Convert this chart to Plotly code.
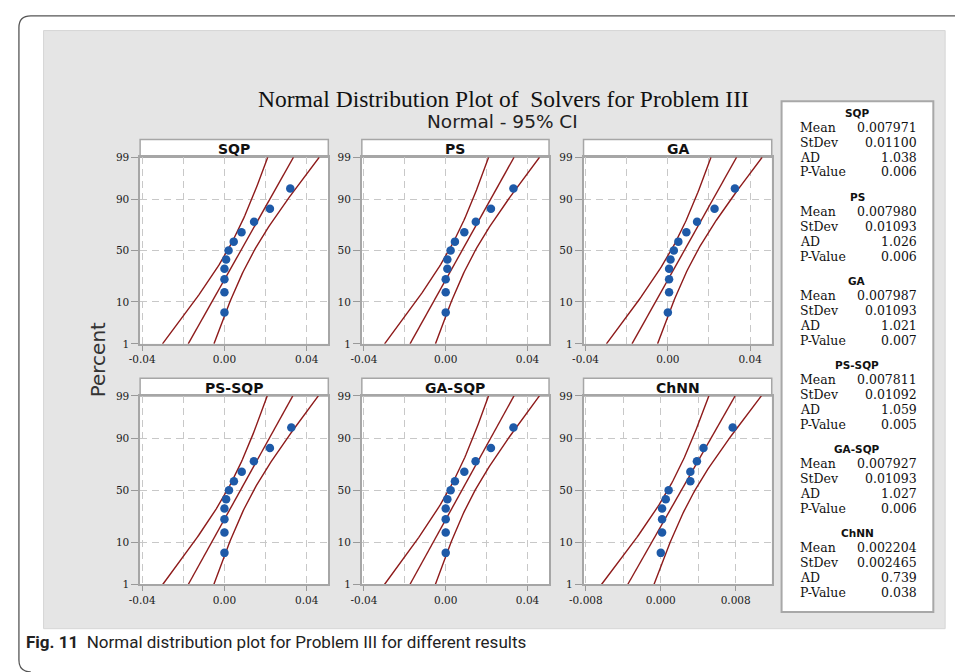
import plotly.graph_objects as go
from statistics import NormalDist
import math

W, H = 955, 672
nd = NormalDist()

# ---------------- data ----------------
panel_names = ["SQP", "PS", "GA", "PS-SQP", "GA-SQP", "ChNN"]
# plotting positions (percent) of the 11 ordered observations
plot_pct = [6.1, 14.9, 23.7, 32.5, 41.2, 50.0, 58.8, 67.5, 76.3, 85.1, 93.9]

sqp_vals = [0.0, 0.0, 0.0, 0.0, 0.0008, 0.0020, 0.0045, 0.0083, 0.0144, 0.0221, 0.0320]
ps_vals = [0.0, 0.0, 0.0, 0.0008, 0.0008, 0.0024, 0.0045, 0.0091, 0.0147, 0.0221, 0.0331]
ga_vals = [0.0, 0.0006, 0.0006, 0.0006, 0.0013, 0.0029, 0.0051, 0.0090, 0.0142, 0.0227, 0.0326]
ps_sqp_vals = [0.0, 0.0, 0.0, 0.0, 0.0008, 0.0022, 0.0046, 0.0084, 0.0143, 0.0221, 0.0325]
ga_sqp_vals = [0.0, 0.0, 0.0, 0.0, 0.0008, 0.0024, 0.0045, 0.0091, 0.0146, 0.0221, 0.0331]
chnn_vals = [0.0, 0.00014, 0.00014, 0.00014, 0.00053, 0.00084, 0.00316, 0.00316, 0.00386, 0.00456, 0.00768]
series_vals = [sqp_vals, ps_vals, ga_vals, ps_sqp_vals, ga_sqp_vals, chnn_vals]

means = [0.007971, 0.007980, 0.007987, 0.007811, 0.007927, 0.002204]
stdevs = [0.01100, 0.01093, 0.01093, 0.01092, 0.01093, 0.002465]
ad_vals = [1.038, 1.026, 1.021, 1.059, 1.027, 0.739]
p_vals = [0.006, 0.006, 0.007, 0.005, 0.006, 0.038]

y_tick_pct = [1, 10, 50, 90, 99]
y_tick_text = ["1", "10", "50", "90", "99"]
x_tick_vals = [[-0.04, 0.0, 0.04]] * 5 + [[-0.008, 0.0, 0.008]]
x_tick_text = [["-0.04", "0.00", "0.04"]] * 5 + [["-0.008", "0.000", "0.008"]]
x_minor_vals = [[-0.02, 0.02]] * 5 + [[-0.004, 0.004]]
x_ranges = [[-0.041, 0.0505]] * 5 + [[-0.00825, 0.01185]]

title_text = "Normal Distribution Plot of  Solvers for Problem III"
subtitle_text = "Normal - 95% CI"
caption_bold = "Fig. 11"
caption_text = "Normal distribution plot for Problem III for different results"

# ---------------- styling / layout ----------------
RED = "#8e1b1b"
BLUE = "#1e5aa8"
GRID = "#c8c8c8"
BORDER = "#a6a6a6"
SERIF = "Liberation Serif"
WSERIF = "DejaVu Serif"
SANS = "DejaVu Sans"

col_px = [(128, 319), (353, 543), (578, 769)]
row_px = [(154, 344), (397, 589)]
hdr_px = [(136, 154), (379, 397)]


def fx(x):
    return x / W


def fy(y):
    return 1 - y / H


zlo = nd.inv_cdf(0.01)
zhi = nd.inv_cdf(0.99)

fig = go.Figure()
shapes = []
annotations = []

# outer rounded frame
r = 12
x0, y0, x1, y1 = 5, 10, 975, 678
path = (f"M {fx(x0)},{fy(y1 - r)} L {fx(x0)},{fy(y0 + r)} Q {fx(x0)},{fy(y0)} {fx(x0 + r)},{fy(y0)} "
        f"L {fx(x1)},{fy(y0)}")
shapes.append(dict(type="path", xref="paper", yref="paper", path=path,
                   line=dict(color="#555555", width=1.3), layer="below"))
path2 = (f"M {fx(x0)},{fy(y1 - r)} Q {fx(x0)},{fy(y1)} {fx(x0 + r)},{fy(y1)}")
shapes.append(dict(type="path", xref="paper", yref="paper", path=path2,
                   line=dict(color="#555555", width=1.3), layer="below"))

# gray panel
shapes.append(dict(type="rect", xref="paper", yref="paper", x0=fx(30), x1=fx(945), y0=fy(634), y1=fy(25),
                   fillcolor="#e5e5e5", line=dict(color="#d6d6d6", width=1), layer="below"))
# stats box
shapes.append(dict(type="rect", xref="paper", yref="paper", x0=fx(779), x1=fx(933), y0=fy(617), y1=fy(97),
                   fillcolor="white", line=dict(color="#a8a8a8", width=2), layer="below"))

for i, name in enumerate(panel_names):
    row, col = divmod(i, 3)
    c0, c1 = col_px[col]
    r0, r1 = row_px[row]
    h0, h1 = hdr_px[row]
    idx = "" if i == 0 else str(i + 1)
    # plot area white
    shapes.append(dict(type="rect", xref="paper", yref="paper", x0=fx(c0), x1=fx(c1), y0=fy(r1), y1=fy(r0),
                       fillcolor="white", line=dict(width=0), layer="below"))
    # header box
    shapes.append(dict(type="rect", xref="paper", yref="paper", x0=fx(c0), x1=fx(c1), y0=fy(h1), y1=fy(h0),
                       fillcolor="white", line=dict(color=BORDER, width=1.5), layer="below"))
    annotations.append(dict(xref="paper", yref="paper", x=fx((c0 + c1) / 2), y=fy((h0 + h1) / 2 + 0.5),
                            text=f"<b>{name}</b>", showarrow=False, xanchor="center", yanchor="middle",
                            font=dict(family=SANS, size=14, color="#111111")))

    fig.layout[f"xaxis{idx}"] = dict(
        domain=[fx(c0), fx(c1)], range=x_ranges[i], anchor=f"y{idx}",
        tickvals=x_tick_vals[i], ticktext=x_tick_text[i], ticks="outside", ticklen=5, tickcolor="#999999",
        showline=True, mirror=True, linecolor=BORDER, linewidth=1.5,
        showgrid=True, gridcolor=GRID, griddash="7px,5px", gridwidth=1.3, zeroline=False,
        minor=dict(tickvals=x_minor_vals[i], showgrid=True, gridcolor=GRID, griddash="7px,5px",
                   gridwidth=1.3, ticks=""),
        tickfont=dict(family=WSERIF, size=10.5, color="#1a1a1a"), fixedrange=True)
    fig.layout[f"yaxis{idx}"] = dict(
        domain=[fy(r1), fy(r0)], range=[zlo, zhi], anchor=f"x{idx}",
        tickvals=[nd.inv_cdf(p / 100) for p in y_tick_pct], ticktext=y_tick_text,
        ticks="outside", ticklen=7, tickcolor="#999999",
        showline=True, mirror=True, linecolor=BORDER, linewidth=1.5,
        showgrid=True, gridcolor=GRID, griddash="7px,5px", gridwidth=1.3, zeroline=False,
        tickfont=dict(family=WSERIF, size=10.5, color="#1a1a1a"), fixedrange=True)

    # fitted line and 95% CI
    n = len(series_vals[i])
    m, s = means[i], stdevs[i]
    zs = [zlo + (zhi - zlo) * k / 80 for k in range(81)]
    center = [m + z * s for z in zs]
    half = [1.96 * s * math.sqrt(1 / n + z * z / (2 * n)) for z in zs]
    lower = [c - h for c, h in zip(center, half)]
    upper = [c + h for c, h in zip(center, half)]
    for xs in (lower, center, upper):
        fig.add_trace(go.Scatter(x=xs, y=zs, mode="lines", line=dict(color=RED, width=1.4),
                                 xaxis=f"x{idx}", yaxis=f"y{idx}", hoverinfo="skip", showlegend=False))
    fig.add_trace(go.Scatter(x=series_vals[i], y=[nd.inv_cdf(p / 100) for p in plot_pct], mode="markers",
                             marker=dict(color=BLUE, size=8.5), xaxis=f"x{idx}", yaxis=f"y{idx}",
                             showlegend=False))

# stats box text
block0 = 109
step = 85.6
for i, name in enumerate(panel_names):
    top = block0 + i * step
    annotations.append(dict(xref="paper", yref="paper", x=fx(856), y=fy(top), text=f"<b>{name}</b>",
                            showarrow=False, xanchor="center", yanchor="middle",
                            font=dict(family=SANS, size=10.5, color="#111111")))
    rows = [("Mean", f"{means[i]:.6f}"), ("StDev", f"{stdevs[i]:#.4g}"),
            ("AD", f"{ad_vals[i]:.3f}"), ("P-Value", f"{p_vals[i]:.3f}")]
    offs = [14.5, 29.5, 45, 60]
    for (lab, val), o in zip(rows, offs):
        annotations.append(dict(xref="paper", yref="paper", x=fx(796), y=fy(top + o), text=lab,
                                showarrow=False, xanchor="left", yanchor="middle",
                                font=dict(family=WSERIF, size=12.5, color="#111111")))
        annotations.append(dict(xref="paper", yref="paper", x=fx(918), y=fy(top + o), text=val,
                                showarrow=False, xanchor="right", yanchor="middle",
                                font=dict(family=WSERIF, size=12.5, color="#111111")))

# titles
annotations.append(dict(xref="paper", yref="paper", x=fx(497), y=fy(95), text=title_text, showarrow=False,
                        xanchor="center", yanchor="middle", font=dict(family=SERIF, size=23.5, color="#111111")))
annotations.append(dict(xref="paper", yref="paper", x=fx(496), y=fy(118), text=subtitle_text, showarrow=False,
                        xanchor="center", yanchor="middle", font=dict(family=SANS, size=18.5, color="#222222")))
annotations.append(dict(xref="paper", yref="paper", x=fx(85), y=fy(360), text="Percent", showarrow=False,
                        textangle=-90, xanchor="center", yanchor="middle",
                        font=dict(family=SANS, size=20, color="#333333")))
annotations.append(dict(xref="paper", yref="paper", x=fx(10), y=fy(648),
                        text=f"<b>{caption_bold}</b>  {caption_text}", showarrow=False,
                        xanchor="left", yanchor="middle", font=dict(family="Roboto", size=17, color="#222222")))

fig.update_layout(width=W, height=H, autosize=False, margin=dict(l=0, r=0, t=0, b=0, pad=0),
                  paper_bgcolor="white", plot_bgcolor="rgba(0,0,0,0)", shapes=shapes,
                  annotations=annotations, showlegend=False)

fig.write_html("out.html", config={"displayModeBar": False})
